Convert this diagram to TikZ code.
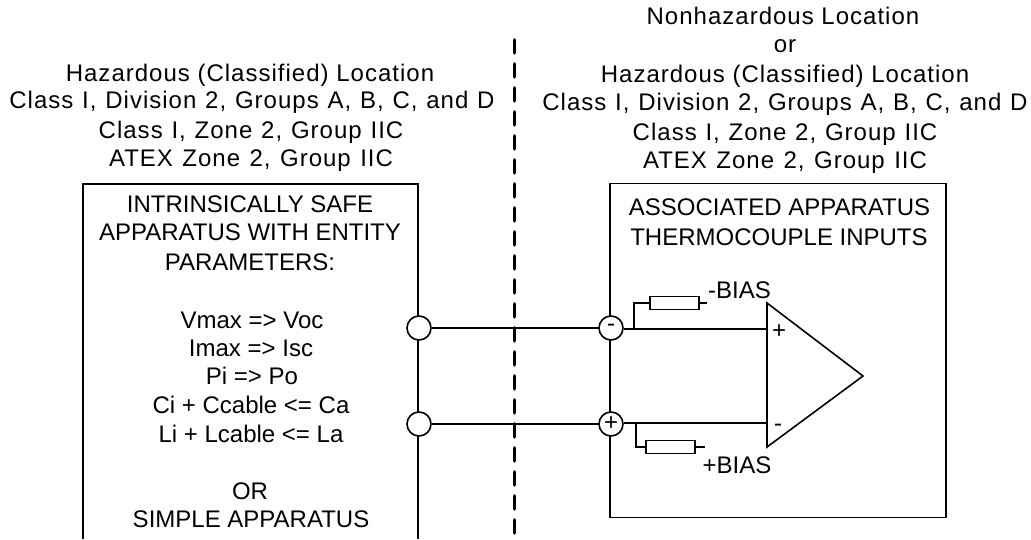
\documentclass[tikz,border=0pt]{standalone}
\usepackage{fontspec}
\setmainfont{Liberation Sans}
\newfontfamily\hdrfont[LetterSpace=4.2]{Liberation Sans}
\newcommand\hdrbase{\hdrfont\fontsize{18}{18}\selectfont}
\newcommand\hdrwide{\hdrbase\setlength{\spaceskip}{6.6pt}}
\newcommand\hdrwider{\hdrbase\setlength{\spaceskip}{7.1pt}}
\begin{document}
\begin{tikzpicture}[x=0.75pt,y=-0.75pt,
  wire/.style={line width=1.2pt,draw=black},
  term/.style={circle,draw=black,line width=1.2pt,fill=white,minimum size=18pt,inner sep=0pt,font=\fontsize{18}{18}\selectfont},
  txt/.style={font=\fontsize{18}{18}\selectfont,inner sep=0pt,anchor=base,text=black},
  hdr/.style={font=\hdrbase,inner sep=0pt,anchor=base,text=black},
  hdrw/.style={font=\hdrwide,inner sep=0pt,anchor=base,text=black},
  hdrx/.style={font=\hdrwider,inner sep=0pt,anchor=base,text=black},
  res/.style={draw=black,line width=1.2pt,fill=white,minimum width=36.5pt,minimum height=9.5pt,inner sep=0pt}]
\useasboundingbox (0,0) rectangle (1031,539);
\node[hdr] (h1) at (250,81) {Hazardous (Classified) Location};
\node[hdrw] (h2) at (252,108) {Class I, Division 2, Groups A, B, C, and D};
\node[hdrw] (h3) at (251,138) {Class I, Zone 2, Group IIC};
\node[hdrx] (h4) at (251,166) {ATEX Zone 2, Group IIC};
\node[hdr] (g1) at (783,24) {Nonhazardous Location};
\node[hdr] (g2) at (785,52) {or};
\node[hdr] (g3) at (785,82) {Hazardous (Classified) Location};
\node[hdrw] (g4) at (785,110) {Class I, Division 2, Groups A, B, C, and D};
\node[hdrw] (g5) at (785,140) {Class I, Zone 2, Group IIC};
\node[hdrx] (g6) at (785,168) {ATEX Zone 2, Group IIC};
\coordinate (dt) at (514.5,40); \coordinate (db) at (514.5,539);
\draw[line width=2.8pt,dash pattern=on 9.7pt off 8.3pt,line cap=round] (dt) -- (db);
\coordinate (lbl) at (83,539); \coordinate (ltl) at (83,184); \coordinate (ltr) at (418,184); \coordinate (lbr) at (418,539);
\draw[wire] (lbl) -- (ltl) -- (ltr) -- (lbr);
\node[draw=black,line width=1.2pt,minimum width=252pt,minimum height=250.5pt,inner sep=0pt] (rbox) at (778,350.5) {};
\node[txt] (b1) at (250,212) {INTRINSICALLY SAFE};
\node[txt] (b2) at (250,240) {APPARATUS WITH ENTITY};
\node[txt] (b3) at (250,270) {PARAMETERS:};
\node[txt] (b4) at (252,328) {Vmax => Voc};
\node[txt] (b5) at (251,356) {Imax => Isc};
\node[txt] (b6) at (252,384) {Pi => Po};
\node[txt] (b7) at (251,413) {Ci + Ccable <= Ca};
\node[txt] (b8) at (251,442) {Li + Lcable <= La};
\node[txt] (b9) at (250,499) {OR};
\node[txt] (b10) at (251,527) {SIMPLE APPARATUS};
\node[txt] (r1t) at (779.5,215) {ASSOCIATED APPARATUS};
\node[txt] (r2t) at (779,245) {THERMOCOUPLE INPUTS};
\node[term] (c1) at (419,328) {};
\node[term] (c2) at (419,424) {};
\node[term] (c3) at (611,328) {-};
\node[term] (c4) at (611,424) {+};
\coordinate (a1) at (767,329); \coordinate (a2) at (767,423);
\draw[wire] (c1) -- (c3);
\draw[wire] (c2) -- (c4);
\draw[wire] (c3.east |- a1) -- (a1);
\draw[wire] (c4.east |- a2) -- (a2);
\coordinate (t1) at (767,303); \coordinate (t2) at (863,376); \coordinate (t3) at (767,447);
\draw[wire,line join=miter] (t1) -- (t2) -- (t3) -- cycle;
\node[txt] (pl) at (779,338) {+};
\node[txt] (mn) at (778,431) {-};
\node[res] (r1) at (674.5,303) {};
\node[res] (r2) at (670.5,447) {};
\coordinate (j1) at (634,329); \coordinate (j2) at (636,423);
\coordinate (e1) at (707,303); \coordinate (e2) at (705,447);
\draw[wire] (j1) |- (r1);
\draw[wire] (j2) |- (r2);
\draw[wire] (r1) -- (e1);
\draw[wire] (r2) -- (e2);
\node[txt] (bm) at (739.5,298) {-BIAS};
\node[txt] (bp) at (737,473) {+BIAS};
\end{tikzpicture}
\end{document}
